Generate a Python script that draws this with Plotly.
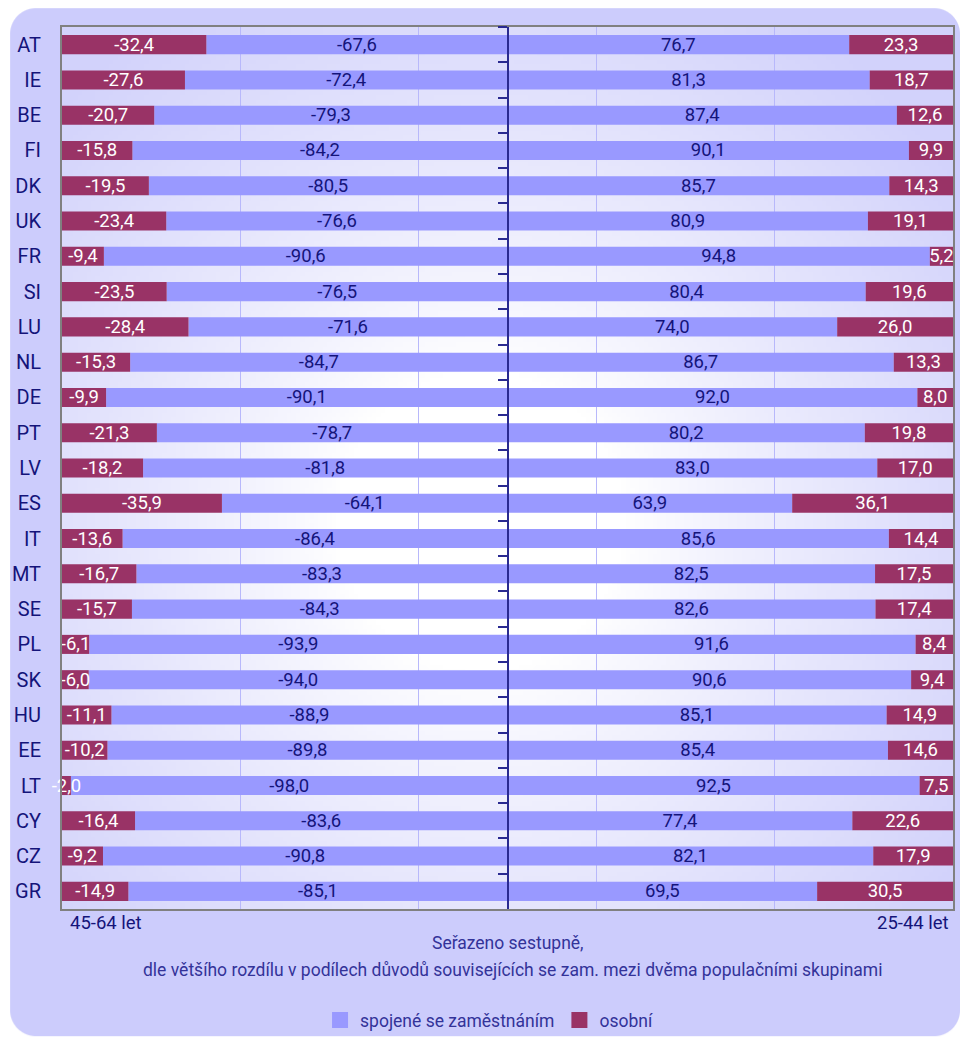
import base64
import struct
import zlib

import numpy as np
import plotly.graph_objects as go

countries = ["AT", "IE", "BE", "FI", "DK", "UK", "FR", "SI", "LU", "NL", "DE", "PT", "LV",
             "ES", "IT", "MT", "SE", "PL", "SK", "HU", "EE", "LT", "CY", "CZ", "GR"]

# 45-64 let (levá strana, záporné hodnoty)
osobni_45 = [-32.4, -27.6, -20.7, -15.8, -19.5, -23.4, -9.4, -23.5, -28.4, -15.3, -9.9, -21.3, -18.2,
             -35.9, -13.6, -16.7, -15.7, -6.1, -6.0, -11.1, -10.2, -2.0, -16.4, -9.2, -14.9]
zam_45 = [-67.6, -72.4, -79.3, -84.2, -80.5, -76.6, -90.6, -76.5, -71.6, -84.7, -90.1, -78.7, -81.8,
          -64.1, -86.4, -83.3, -84.3, -93.9, -94.0, -88.9, -89.8, -98.0, -83.6, -90.8, -85.1]

# 25-44 let (pravá strana)
zam_25 = [76.7, 81.3, 87.4, 90.1, 85.7, 80.9, 94.8, 80.4, 74.0, 86.7, 92.0, 80.2, 83.0,
          63.9, 85.6, 82.5, 82.6, 91.6, 90.6, 85.1, 85.4, 92.5, 77.4, 82.1, 69.5]
osobni_25 = [23.3, 18.7, 12.6, 9.9, 14.3, 19.1, 5.2, 19.6, 26.0, 13.3, 8.0, 19.8, 17.0,
             36.1, 14.4, 17.5, 17.4, 8.4, 9.4, 14.9, 14.6, 7.5, 22.6, 17.9, 30.5]

FONT = "Roboto, Liberation Sans, sans-serif"
NAVY = "#14147a"
TXT2 = "#333399"
LAV = "#9999ff"
MAROON = "#993366"

W, H = 962, 1045
ML, MR, MT, MB = 62, 7, 27, 130
pw, ph = W - ML - MR, H - MT - MB


def px(x):
    return (x - ML) / pw


def py(y):
    return (H - MB - y) / ph


def lbl(vals):
    return [f"{v:.1f}".replace(".", ",") for v in vals]


def to_png(img):
    h, w, _ = img.shape
    raw = b"".join(b"\x00" + img[i].tobytes() for i in range(h))

    def chunk(tag, data):
        c = struct.pack(">I", len(data)) + tag + data
        return c + struct.pack(">I", zlib.crc32(tag + data) & 0xffffffff)

    png = (b"\x89PNG\r\n\x1a\n"
           + chunk(b"IHDR", struct.pack(">IIBBBBB", w, h, 8, 2, 0, 0, 0))
           + chunk(b"IDAT", zlib.compress(raw, 9))
           + chunk(b"IEND", b""))
    return "data:image/png;base64," + base64.b64encode(png).decode()


def gradient_png(w=200, h=200):
    X, Y = np.meshgrid(np.linspace(0, 1, w), np.linspace(0, 1, h))
    d = np.sqrt(((X - 0.47) / 0.66) ** 2 + ((Y - 0.56) / 0.7) ** 2)
    t = np.clip((d - 0.25) / 0.75, 0, 1) ** 0.85
    c0 = np.array([255, 255, 255])
    c1 = np.array([210, 210, 251])
    img = c0 * (1 - t[..., None]) + c1 * t[..., None]
    return to_png(img.astype(np.uint8))


def panel_png(x0=10, x1=962, y0=8, y1=1043, r=26):
    X, Y = np.meshgrid(np.arange(W) + 0.5, np.arange(H) + 0.5)
    cx = np.clip(X, x0 + r, x1 - r)
    cy = np.clip(Y, y0 + r, y1 - r)
    dist = np.sqrt((X - cx) ** 2 + (Y - cy) ** 2)
    inside = np.clip(r - dist + 0.5, 0, 1)
    inside *= np.clip(X - x0 + 0.5, 0, 1) * np.clip(x1 - X + 0.5, 0, 1)
    inside *= np.clip(Y - y0 + 0.5, 0, 1) * np.clip(y1 - Y + 0.5, 0, 1)
    c_in = np.array([204, 204, 252])
    c_out = np.array([255, 255, 255])
    img = c_out * (1 - inside[..., None]) + c_in * inside[..., None]
    return to_png(img.astype(np.uint8))


fig = go.Figure()


def bar(x, name, color, tcolor):
    fig.add_trace(go.Bar(
        y=countries, x=x, orientation="h", name=name, marker=dict(color=color, line=dict(width=0)),
        text=lbl(x), textposition="inside", insidetextanchor="middle", textangle=0,
        textfont=dict(color=tcolor, size=18.5, family=FONT), cliponaxis=False,
        legendgroup=name, showlegend=False, hoverinfo="x+y",
    ))


bar(zam_45, "spojené se zaměstnáním", LAV, NAVY)
bar(zam_25, "spojené se zaměstnáním", LAV, NAVY)
bar(osobni_45, "osobní", MAROON, "white")
bar(osobni_25, "osobní", MAROON, "white")

# legenda s většími čtverečky
for name, color in [("spojené se zaměstnáním", LAV), ("osobní", MAROON)]:
    fig.add_trace(go.Scatter(x=[None], y=[None], mode="markers", name=name, legendgroup=name,
                             marker=dict(symbol="square", size=16, color=color)))

# neviditelná stopa pro osu s ryskami uprostřed
fig.add_trace(go.Scatter(x=[0] * len(countries), y=countries, yaxis="y2", mode="markers",
                         marker=dict(opacity=0, size=1), showlegend=False, hoverinfo="skip"))

fig.update_layout(
    width=W, height=H,
    margin=dict(l=ML, r=MR, t=MT, b=MB),
    barmode="relative", bargap=0.46,
    paper_bgcolor="white", plot_bgcolor="rgba(0,0,0,0)",
    font=dict(family=FONT, color=NAVY, size=18),
    uniformtext=dict(minsize=18, mode="show"),
    images=[
        dict(source=panel_png(), xref="paper", yref="paper", x=px(0), y=py(0),
             sizex=W / pw, sizey=H / ph, sizing="stretch", layer="below"),
        dict(source=gradient_png(), xref="paper", yref="paper", x=0, y=1, sizex=1, sizey=1,
             sizing="stretch", layer="below"),
    ],
    xaxis=dict(range=[-100, 100], tick0=-100, dtick=40, showgrid=True, gridcolor="#b8b8fb", gridwidth=1,
               showticklabels=False, zeroline=False, showline=True, linecolor="#808080", linewidth=2,
               mirror=True, ticks=""),
    yaxis=dict(type="category", categoryorder="array", categoryarray=countries, range=[24.5, -0.5],
               showline=True, linecolor="#808080", linewidth=2, mirror=True, ticks="",
               ticklabelstandoff=15, tickfont=dict(size=20, color=NAVY, family=FONT)),
    yaxis2=dict(type="category", categoryorder="array", categoryarray=countries, range=[24.5, -0.5],
                overlaying="y", anchor="free", position=0.5, side="left", showticklabels=False,
                showline=True, linecolor="#2a2a90", linewidth=1.5, ticks="outside", tickson="boundaries",
                ticklen=9, tickcolor="#2a2a90", tickwidth=1.5, showgrid=False),
    legend=dict(orientation="h", x=px(490), xanchor="center", y=py(1027), yanchor="middle",
                bgcolor="rgba(0,0,0,0)", font=dict(size=17.5, color=TXT2, family=FONT),
                traceorder="normal"),
    annotations=[
        dict(text="45-64 let", x=0, xanchor="left", xshift=6, y=py(929), yanchor="middle",
             xref="paper", yref="paper", showarrow=False, font=dict(size=18.5, color=NAVY)),
        dict(text="25-44 let", x=1, xanchor="right", xshift=-2, y=py(929), yanchor="middle",
             xref="paper", yref="paper", showarrow=False, font=dict(size=18.5, color=NAVY)),
        dict(text="Seřazeno sestupně,", x=0.5, xanchor="center", y=py(949), yanchor="middle",
             xref="paper", yref="paper", showarrow=False, font=dict(size=17.5, color=TXT2)),
        dict(text="dle většího rozdílu v podílech důvodů souvisejících se zam. mezi dvěma populačními skupinami",
             x=px(514), xanchor="center", y=py(976), yanchor="middle",
             xref="paper", yref="paper", showarrow=False, font=dict(size=17.5, color=TXT2)),
    ],
)

fig.write_html("out.html", config={"displayModeBar": False},
               post_script="document.body.style.margin='0';")
